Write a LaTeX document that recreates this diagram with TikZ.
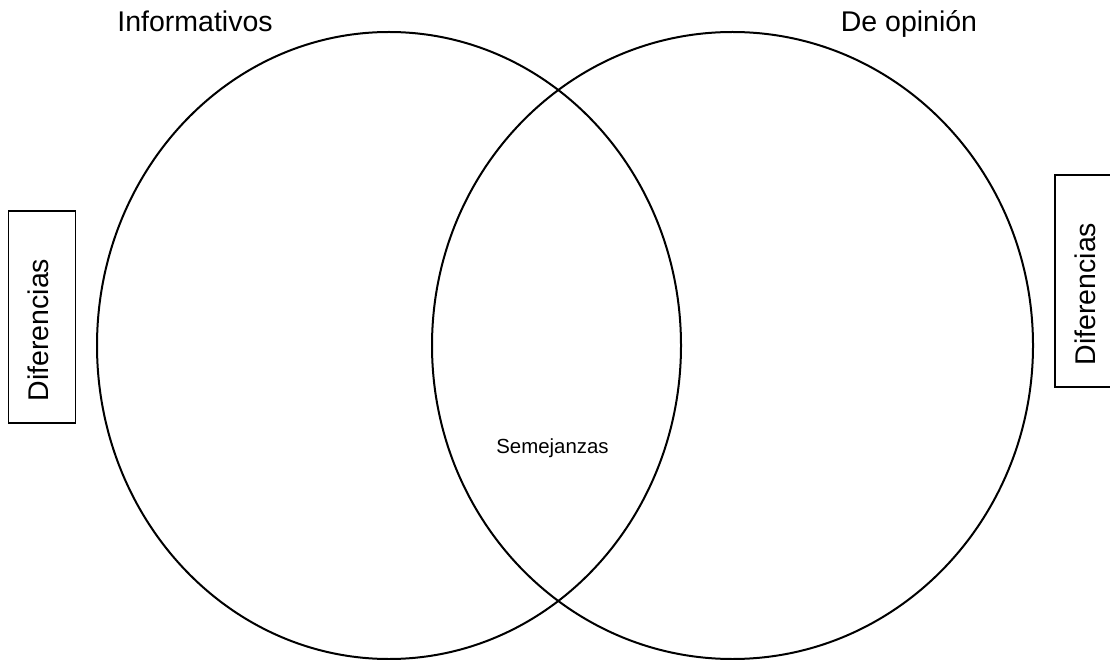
\documentclass[tikz,border=0pt]{standalone}
\usepackage{fontspec}
\setmainfont{Liberation Sans}
\usetikzlibrary{shapes.geometric}
\tikzset{
  conjunto/.style={draw,ellipse,line width=2pt,inner sep=0pt},
  caja/.style={draw,line width=1.3pt,inner sep=0pt},
  titulo/.style={anchor=base,inner sep=0pt,font=\fontsize{28.5}{34}\selectfont},
  rotulo/.style={anchor=base,rotate=90,inner sep=0pt,font=\fontsize{28.5}{34}\selectfont},
  nota/.style={anchor=base,inner sep=0pt,font=\fontsize{20.4}{24}\selectfont}
}
\begin{document}
\begin{tikzpicture}[x=1pt,y=-1pt]
			\useasboundingbox (0,0) rectangle (1110,660);
			% Conjuntos
			\node[conjunto,minimum width=584,minimum height=627] (informativos) at (389,345.5) {};
			\node[conjunto,minimum width=601,minimum height=627] (opinion) at (732.5,345.5) {};

			% Titulos
			\node[titulo] (tInformativos) at (195,32) {Informativos};
			\node[titulo] (tOpinion) at (909,32) {De opinión};
			\node[nota] (semejanzas) at (552.5,453) {Semejanzas};

			% Cajas laterales
			\node[caja,minimum width=67,minimum height=212] (cajaIzq) at (42.2,317) {};
			\node[rotulo] (difIzq) at (48,330) {Diferencias};
			\node[caja,minimum width=60,minimum height=212] (cajaDer) at (1085,281) {};
			\node[rotulo] (difDer) at (1095,294) {Diferencias};
		\end{tikzpicture}
\end{document}
